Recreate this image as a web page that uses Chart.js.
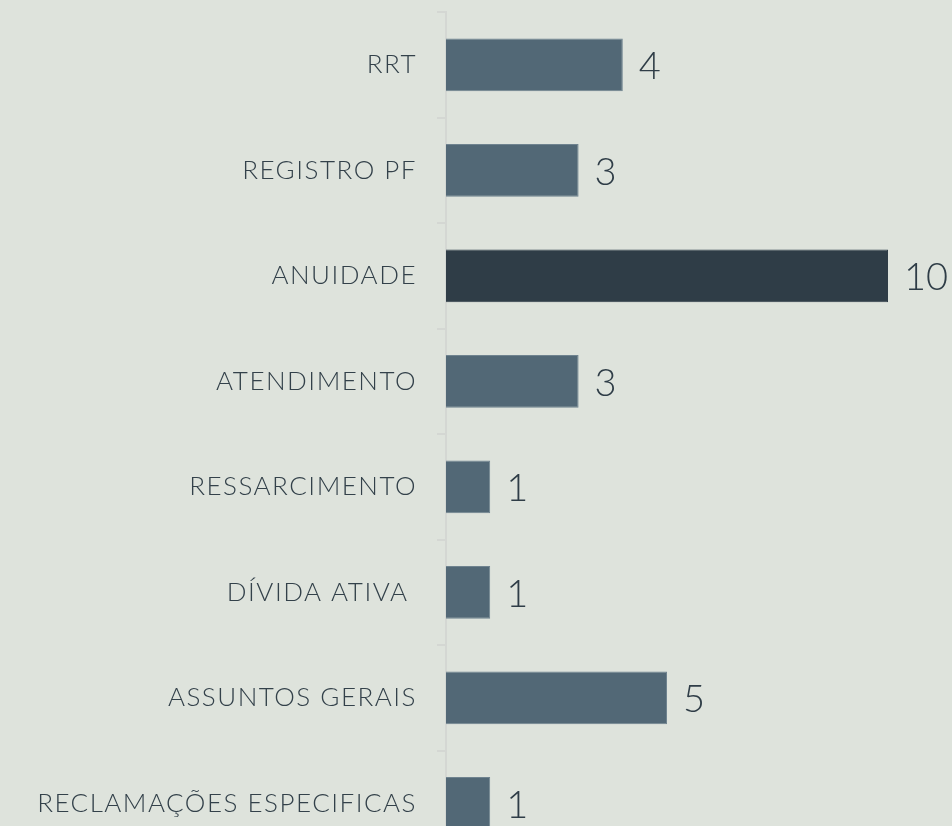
<!DOCTYPE html>
<html>
<head>
<meta charset="utf-8">
<script src="https://cdn.jsdelivr.net/npm/chart.js@4.4.1/dist/chart.umd.min.js"></script>
<style>
  html, body { margin: 0; padding: 0; background: #dee3dc; overflow: hidden; }
  #wrap { width: 952px; height: 826px; overflow: hidden; }
  #wrap canvas { display: block; }
</style>
</head>
<body>
<div id="wrap"><canvas id="chart" width="952" height="862"></canvas></div>
<script>
const categories = [
  "RRT",
  "REGISTRO PF",
  "ANUIDADE",
  "ATENDIMENTO",
  "RESSARCIMENTO",
  "DÍVIDA ATIVA ",
  "ASSUNTOS GERAIS",
  "RECLAMAÇÕES ESPECIFICAS",
];
const counts = [4, 3, 10, 3, 1, 1, 5, 1];
const highlight = "ANUIDADE";

const FONT = "Lato, 'Open Sans', sans-serif";

// wider lettering, closer to the geometric face of the original
const spacing = {
  id: "spacing",
  beforeDraw(chart) {
    chart.ctx.letterSpacing = "1.5px";
  },
};

const valueLabels = {
  id: "valueLabels",
  afterDatasetsDraw(chart) {
    const ctx = chart.ctx;
    const meta = chart.getDatasetMeta(0);
    ctx.save();
    ctx.letterSpacing = "0px";
    ctx.font = "300 38px " + FONT;
    ctx.fillStyle = "#2f3d47";
    ctx.textAlign = "left";
    ctx.textBaseline = "middle";
    meta.data.forEach((bar, i) => {
      ctx.fillText(String(counts[i]), bar.x + 16, bar.y + 2);
    });
    ctx.restore();
  },
};

const ctx = document.getElementById("chart").getContext("2d");
new Chart(ctx, {
  type: "bar",
  data: {
    labels: categories,
    datasets: [
      {
        data: counts,
        backgroundColor: categories.map((c) => (c === highlight ? "#2f3d47" : "#526876")),
        borderColor: categories.map((c) => (c === highlight ? "#2f3d47" : "#6f838f")),
        borderWidth: 1,
        categoryPercentage: 0.5,
        barPercentage: 1,
      },
    ],
  },
  options: {
    indexAxis: "y",
    responsive: false,
    animation: false,
    layout: { padding: { top: 12, right: 64, bottom: 6, left: 0 } },
    plugins: {
      legend: { display: false },
      tooltip: { enabled: false },
    },
    scales: {
      x: { display: false, min: 0, max: 10 },
      y: {
        afterFit: (scale) => {
          scale.width = 446;
          scale.paddingTop = 0;
          scale.paddingBottom = 0;
        },
        border: { color: "#d4d7d3", width: 2 },
        grid: {
          offset: true,
          drawOnChartArea: false,
          color: "#d4d7d3",
          lineWidth: 2,
          tickLength: 9,
        },
        ticks: {
          padding: 20,
          color: "#33414a",
          font: { family: FONT, size: 26, weight: "300" },
        },
      },
    },
  },
  plugins: [spacing, valueLabels],
});
</script>
</body>
</html>
